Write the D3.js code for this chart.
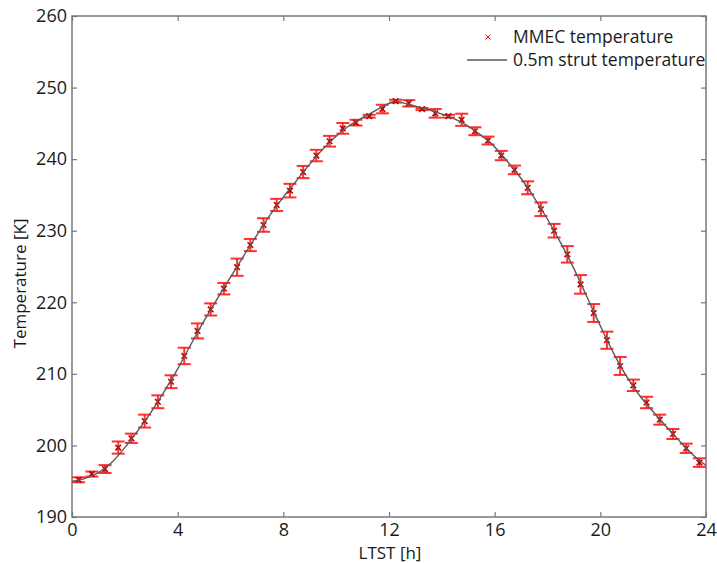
<!DOCTYPE html>
<html>
<head>
<meta charset="utf-8">
<script src="https://cdn.jsdelivr.net/npm/d3@7"></script>
<style>
  body { margin: 0; background: #fff; }
  text { font-family: 'Open Sans', sans-serif; fill: #1a1a1a; }
</style>
</head>
<body>
<div id="chart"></div>
<script>
// MMEC measurements, every half hour
let hours = [0.25, 0.75, 1.25, 1.75, 2.25, 2.75, 3.25, 3.75, 4.25, 4.75, 5.25, 5.75,
  6.25, 6.75, 7.25, 7.75, 8.25, 8.75, 9.25, 9.75, 10.25, 10.75, 11.25, 11.75,
  12.25, 12.75, 13.25, 13.75, 14.25, 14.75, 15.25, 15.75, 16.25, 16.75, 17.25, 17.75,
  18.25, 18.75, 19.25, 19.75, 20.25, 20.75, 21.25, 21.75, 22.25, 22.75, 23.25, 23.75]

let mmecTemp = [195.2, 196.0, 196.7, 199.7, 201.0, 203.4, 206.1, 208.9, 212.5, 216.0, 219.0, 221.9,
  224.9, 228.0, 230.8, 233.6, 235.6, 238.2, 240.5, 242.5, 244.3, 245.1, 246.0, 247.0,
  248.1, 247.8, 247.0, 246.4, 246.0, 245.5, 243.9, 242.6, 240.5, 238.5, 236.0, 233.0,
  230.0, 226.7, 222.5, 218.5, 214.7, 211.1, 208.4, 206.0, 203.6, 201.6, 199.6, 197.6]

let mmecErr = [0.35, 0.35, 0.55, 0.85, 0.65, 0.9, 0.9, 0.9, 1.15, 1.05, 0.85, 0.8,
  1.2, 0.85, 0.95, 0.85, 0.95, 0.85, 0.8, 0.75, 0.75, 0.4, 0.2, 0.6,
  0.2, 0.45, 0.15, 0.6, 0.2, 0.85, 0.55, 0.55, 0.65, 0.6, 0.9, 0.95,
  0.95, 1.15, 1.3, 1.25, 1.2, 1.25, 0.8, 0.8, 0.7, 0.7, 0.65, 0.6]

// 0.5m strut temperature
let strutHours = [0, 0.5, 1, 1.5, 2, 2.5, 3, 3.5, 4, 4.5, 5, 5.5, 6, 6.5, 7, 7.5, 8, 8.5,
  9, 9.5, 10, 10.5, 11, 11.5, 12, 12.25, 12.5, 13, 13.5, 14, 14.5, 15, 15.5, 16, 16.5,
  17, 17.5, 18, 18.5, 19, 19.5, 20, 20.5, 21, 21.5, 22, 22.5, 23, 23.5, 24]

let strutTemp = [195.0, 195.4, 196.2, 197.6, 199.7, 202.1, 204.7, 207.6, 210.7, 214.1, 217.4, 220.5,
  223.5, 226.5, 229.4, 232.2, 234.7, 237.0, 239.3, 241.4, 243.2, 244.7, 245.8, 246.8,
  247.8, 248.1, 247.9, 247.4, 246.9, 246.3, 245.6, 244.6, 243.3, 241.7, 239.6,
  237.3, 234.6, 231.6, 228.3, 224.7, 220.7, 216.7, 212.9, 209.6, 206.9, 204.7, 202.6, 200.6, 198.7, 197.2]

let xTicks = [0, 4, 8, 12, 16, 20, 24]
let yTicks = [190, 200, 210, 220, 230, 240, 250, 260]

let margin = { top: 16, left: 72, right: 11, bottom: 46 }
let width = 717 - margin.left - margin.right
let height = 563 - margin.top - margin.bottom

let svg = d3.select('#chart')
  .append('svg')
  .attr('width', 717)
  .attr('height', 563)

let holder = svg.append('g')
  .attr('transform', `translate(${margin.left},${margin.top})`)

let xScale = d3.scaleLinear().domain([0, 24]).range([0, width])
let yScale = d3.scaleLinear().domain([190, 260]).range([height, 0])

let axisColor = '#777'

// frame
holder.append('rect')
  .attr('width', width)
  .attr('height', height)
  .attr('fill', 'none')
  .attr('stroke', axisColor)
  .attr('stroke-width', 1.5)

// axes with inward ticks on all four sides
let xAxis = holder.append('g')
  .attr('transform', `translate(0,${height})`)
  .call(d3.axisBottom(xScale).tickValues(xTicks).tickSize(-5).tickPadding(6))
let xTop = holder.append('g')
  .call(d3.axisTop(xScale).tickValues(xTicks).tickSize(-5).tickFormat(''))
let yAxis = holder.append('g')
  .call(d3.axisLeft(yScale).tickValues(yTicks).tickSize(-5).tickPadding(5))
let yRight = holder.append('g')
  .attr('transform', `translate(${width},0)`)
  .call(d3.axisRight(yScale).tickValues(yTicks).tickSize(-5).tickFormat(''))

;[xAxis, xTop, yAxis, yRight].forEach(ax => {
  ax.select('.domain').remove()
  ax.selectAll('line').attr('stroke', axisColor).attr('stroke-width', 1.2)
  ax.selectAll('text').attr('font-size', 18).attr('fill', '#1a1a1a')
    .style('font-family', "'Open Sans', sans-serif")
})

// axis titles
holder.append('text')
  .attr('x', width / 2 + 1)
  .attr('y', height + 42)
  .attr('text-anchor', 'middle')
  .attr('font-size', 17)
  .text('LTST [h]')

holder.append('text')
  .attr('transform', `translate(${-46},${height / 2 + 17}) rotate(-90)`)
  .attr('text-anchor', 'middle')
  .attr('font-size', 17)
  .text('Temperature [K]')

let points = hours.map((h, i) => ({ h: h, t: mmecTemp[i], e: mmecErr[i] }))
let red = '#ff1a1a'
let cap = 6.5

// error bars
let bars = holder.selectAll('.err')
  .data(points)
  .enter()
  .append('g')
  .attr('class', 'err')
  .attr('stroke', red)
  .attr('stroke-width', 2)
  .attr('stroke-opacity', 0.9)

bars.append('line')
  .attr('x1', d => xScale(d.h)).attr('x2', d => xScale(d.h))
  .attr('y1', d => yScale(d.t - d.e)).attr('y2', d => yScale(d.t + d.e))
bars.append('line')
  .attr('x1', d => xScale(d.h) - cap).attr('x2', d => xScale(d.h) + cap)
  .attr('y1', d => yScale(d.t + d.e)).attr('y2', d => yScale(d.t + d.e))
bars.append('line')
  .attr('x1', d => xScale(d.h) - cap).attr('x2', d => xScale(d.h) + cap)
  .attr('y1', d => yScale(d.t - d.e)).attr('y2', d => yScale(d.t - d.e))

// x markers
let cross = d3.symbol().type(d3.symbolX).size(22)
holder.selectAll('.mark')
  .data(points)
  .enter()
  .append('path')
  .attr('class', 'mark')
  .attr('d', cross)
  .attr('transform', d => `translate(${xScale(d.h)},${yScale(d.t)})`)
  .attr('fill', 'none')
  .attr('stroke', '#c00000')
  .attr('stroke-width', 1.6)

// strut line
let line = d3.line()
  .x(d => xScale(d[0]))
  .y(d => yScale(d[1]))
  .curve(d3.curveMonotoneX)

holder.append('path')
  .datum(strutHours.map((h, i) => [h, strutTemp[i]]))
  .attr('d', line)
  .attr('fill', 'none')
  .attr('stroke', '#5a5a5a')
  .attr('stroke-width', 1.4)

// legend
let legend = holder.append('g')
  .attr('transform', `translate(${395},${21})`)

legend.append('path')
  .attr('d', d3.symbol().type(d3.symbolX).size(18))
  .attr('transform', 'translate(21,0)')
  .attr('fill', 'none')
  .attr('stroke', red)
  .attr('stroke-width', 1)

legend.append('text')
  .attr('x', 46)
  .attr('y', 0)
  .attr('dy', '0.35em')
  .attr('font-size', 17.5)
  .text('MMEC temperature')

legend.append('line')
  .attr('x1', 0).attr('x2', 40)
  .attr('y1', 23).attr('y2', 23)
  .attr('stroke', '#5a5a5a')
  .attr('stroke-width', 1.4)

legend.append('text')
  .attr('x', 46)
  .attr('y', 23)
  .attr('dy', '0.35em')
  .attr('font-size', 17.5)
  .text('0.5m strut temperature')
</script>
</body>
</html>
